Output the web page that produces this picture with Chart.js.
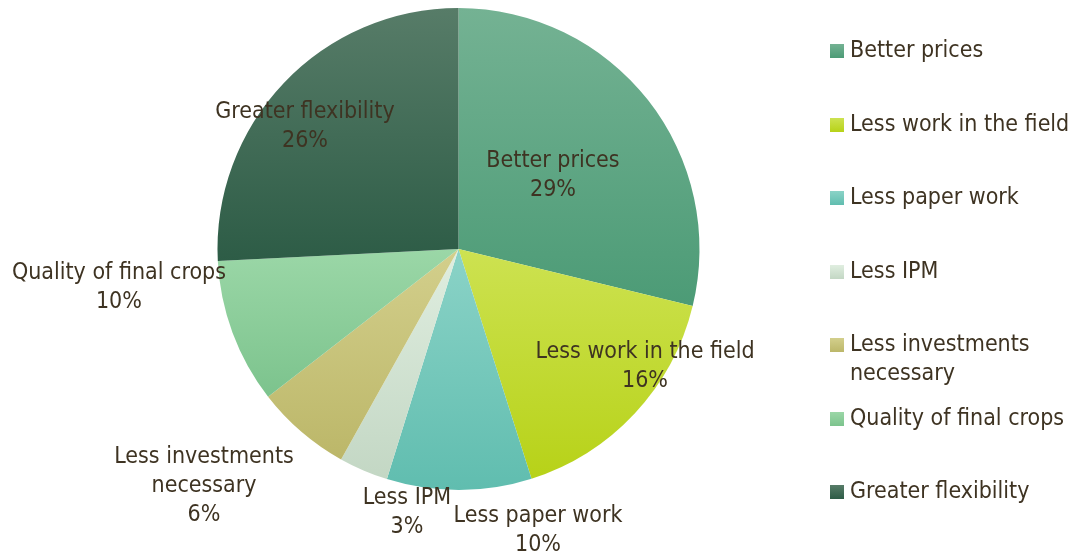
<!DOCTYPE html>
<html>
<head>
<meta charset="utf-8">
<script src="https://cdn.jsdelivr.net/npm/chart.js@4.4.1/dist/chart.umd.min.js"></script>
<style>
  html, body { margin: 0; padding: 0; background: #fff; }
  #wrap { position: relative; width: 1088px; height: 560px; }
  #pie { position: absolute; left: 0; top: 0; }
  .item { position: absolute; left: 830px; width: 258px; font: 23px "DejaVu Sans Condensed", "DejaVu Sans", sans-serif; color: #3e3322; line-height: 29px; }
  .item .sw { position: absolute; left: 0; top: 8px; width: 14px; height: 14px; }
  .item .tx { position: absolute; left: 20px; top: -1px; width: 238px; }
</style>
</head>
<body>
<div id="wrap">
  <canvas id="pie" width="1088" height="560"></canvas>
  <div id="legend"></div>
</div>
<script>
// Chart data
const categories = ['Better prices', 'Less work in the field', 'Less paper work', 'Less IPM',
                    'Less investments necessary', 'Quality of final crops', 'Greater flexibility'];
const shares = [28.8, 16.3, 9.7, 3.3, 6.4, 9.7, 25.8];

// Slice colours (top -> bottom of each slice)
const topColors = ['#74b293', '#cde251', '#8bd3c7', '#e0eee0', '#d3cf8c', '#9bd7a7', '#577c68'];
const bottomColors = ['#4c9b76', '#b7d218', '#60bdaf', '#c3d7c4', '#bcb769', '#7cc38d', '#2d5c46'];
const textColor = '#3e3322';
const labelFont = '23px "DejaVu Sans Condensed", "DejaVu Sans", sans-serif';
const lineHeight = 29;

// Where each slice label sits, relative to pie centre, in radii
const labelAnchors = [
    [0.392, -0.305],
    [0.774, 0.488],
    [0.330, 1.170],
    [-0.214, 1.093],
    [-1.056, 0.983],
    [-1.409, 0.158],
    [-0.637, -0.508]
];

const total = shares.reduce((a, b) => a + b, 0);

// Vertical gradient spanning each slice's own bounding box
function sliceGradient(context) {
    const chart = context.chart;
    const area = chart.chartArea;
    const i = context.dataIndex;
    if (!area || i === undefined) return topColors[i || 0];
    const cx = (area.left + area.right) / 2;
    const cy = (area.top + area.bottom) / 2;
    const r = Math.min(area.width, area.height) / 2;
    const before = shares.slice(0, i).reduce((a, b) => a + b, 0);
    const a0 = -Math.PI / 2 + before / total * Math.PI * 2;
    const a1 = a0 + shares[i] / total * Math.PI * 2;
    const ys = [cy, cy + r * Math.sin(a0), cy + r * Math.sin(a1)];
    [-Math.PI / 2, Math.PI / 2, Math.PI * 1.5].forEach(t => {
        if (t >= a0 && t <= a1) ys.push(cy + r * Math.sin(t));
    });
    const g = chart.ctx.createLinearGradient(0, Math.min(...ys), 0, Math.max(...ys));
    g.addColorStop(0, topColors[i]);
    g.addColorStop(1, bottomColors[i]);
    return g;
}

// Split a label into lines no wider than maxWidth
function wrapText(ctx, text, maxWidth) {
    const words = text.split(' ');
    const lines = [];
    let line = '';
    words.forEach(w => {
        const test = line ? line + ' ' + w : w;
        if (line && ctx.measureText(test).width > maxWidth) {
            lines.push(line);
            line = w;
        } else {
            line = test;
        }
    });
    if (line) lines.push(line);
    return lines;
}

// Draws category name + percentage for each slice
const sliceLabels = {
    id: 'sliceLabels',
    afterDatasetsDraw(chart) {
        const meta = chart.getDatasetMeta(0);
        const ctx = chart.ctx;
        ctx.save();
        ctx.font = labelFont;
        ctx.fillStyle = textColor;
        ctx.textAlign = 'center';
        ctx.textBaseline = 'middle';
        meta.data.forEach((arc, i) => {
            const r = arc.outerRadius;
            const pct = Math.round(shares[i] / total * 100) + '%';
            const lines = wrapText(ctx, categories[i], 245).concat([pct]);
            const x = arc.x + labelAnchors[i][0] * r;
            const y = arc.y + labelAnchors[i][1] * r;
            lines.forEach((t, k) => {
                ctx.fillText(t, x, y + (k - (lines.length - 1) / 2) * lineHeight);
            });
        });
        ctx.restore();
    }
};

new Chart(document.getElementById('pie').getContext('2d'), {
    type: 'pie',
    data: {
        labels: categories,
        datasets: [{
            data: shares,
            backgroundColor: sliceGradient,
            borderWidth: 0
        }]
    },
    options: {
        responsive: false,
        animation: false,
        events: [],
        layout: { padding: { left: 217, right: 388, top: 8, bottom: 70 } },
        plugins: {
            legend: { display: false },
            tooltip: { enabled: false }
        }
    },
    plugins: [sliceLabels]
});

// HTML legend on the right
const legend = document.getElementById('legend');
categories.forEach((name, i) => {
    const item = document.createElement('div');
    item.className = 'item';
    item.style.top = (50.5 + i * 73.5 - 14.5) + 'px';
    const sw = document.createElement('div');
    sw.className = 'sw';
    sw.style.background = 'linear-gradient(' + topColors[i] + ', ' + bottomColors[i] + ')';
    const tx = document.createElement('div');
    tx.className = 'tx';
    tx.textContent = name;
    item.appendChild(sw);
    item.appendChild(tx);
    legend.appendChild(item);
});
</script>
</body>
</html>
